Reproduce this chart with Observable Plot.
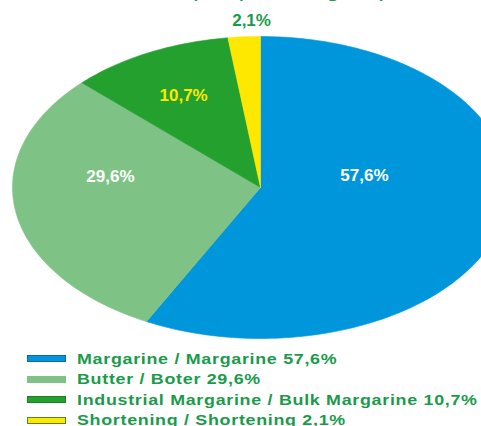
<!DOCTYPE html>
<html>
<head>
<meta charset="utf-8">
<script src="https://cdn.jsdelivr.net/npm/d3@7"></script>
<script src="https://cdn.jsdelivr.net/npm/@observablehq/plot@0.6"></script>
<style>
  html, body { margin: 0; padding: 0; background: #fff; overflow: hidden; }
  #wrap { position: relative; width: 481px; height: 426px; overflow: hidden; font-family: "Liberation Sans", Arial, sans-serif; }
  #title { position: absolute; left: 27px; top: -27px; font-size: 25.6px; color: #1a9b4b; white-space: nowrap; letter-spacing: 0.3px; }
  #chart { position: absolute; left: 0; top: 0; }
  #legend { position: absolute; left: 0; top: 348.5px; }
  .row { position: relative; height: 20.5px; line-height: 20.5px; font-size: 15px; font-weight: bold; color: #1a9b4b; white-space: nowrap; }
  .sw { position: absolute; left: 27px; top: 6.5px; width: 39px; height: 7px; box-sizing: border-box; }
  .tx { position: absolute; left: 77px; top: 0; letter-spacing: 0.6px; transform: scaleX(1.19); transform-origin: 0 50%; }
</style>
</head>
<body>
<div id="wrap">
  <div id="chart"></div>
  <div id="title">Marktaandeel per productgroep</div>
  <div id="legend"></div>
</div>
<script>
const categories = ["Margarine / Margarine", "Butter / Boter", "Industrial Margarine / Bulk Margarine", "Shortening / Shortening"];
const values = [57.6, 29.6, 10.7, 2.1];
const valueLabels = ["57,6%", "29,6%", "10,7%", "2,1%"];
const colors = ["#0096dc", "#7ec385", "#23a02d", "#ffe800"];
const swatchBorders = ["#1565a8", "#7ec385", "#1d7f27", "#4f8a2a"];
const labelColors = ["#ffffff", "#ffffff", "#ffe800", "#1a9b4b"];
const labelX = [0.419, -0.605, -0.310, -0.036];
const labelY = [0.079, 0.073, 0.609, 1.106];

const pie = d3.pie().sort(null).value(d => d)(values);
const slicePts = [];
pie.forEach((p, i) => {
  slicePts.push({cat: categories[i], x: 0, y: 0});
  const n = Math.max(4, Math.ceil((p.endAngle - p.startAngle) / (Math.PI / 120)));
  for (let k = 0; k <= n; k++) {
    const a = p.startAngle + (p.endAngle - p.startAngle) * k / n;
    slicePts.push({cat: categories[i], x: Math.sin(a), y: Math.cos(a)});
  }
  slicePts.push({cat: categories[i], x: 0, y: 0});
});
const labels = categories.map((c, i) => ({cat: c, text: valueLabels[i], x: labelX[i], y: labelY[i], color: labelColors[i]}));

const plot = Plot.plot({
  width: 481,
  height: 345,
  margin: 0,
  x: {domain: [-1, 1], range: [12, 508], axis: null},
  y: {domain: [-1, 1], range: [338, 36], axis: null},
  color: {domain: categories, range: colors},
  marks: [
    Plot.line(slicePts, {x: "x", y: "y", z: "cat", fill: "cat", stroke: "cat", strokeWidth: 0.6, curve: "linear"}),
    Plot.text(labels, {x: "x", y: "y", text: "text", fill: d => d.color, fontSize: 17, fontWeight: "bold", fontFamily: "Liberation Sans, Arial, sans-serif"})
  ]
});
plot.style.overflow = "hidden";
document.getElementById("chart").appendChild(plot);

const legend = document.getElementById("legend");
categories.forEach((c, i) => {
  const row = document.createElement("div");
  row.className = "row";
  const sw = document.createElement("div");
  sw.className = "sw";
  sw.style.background = colors[i];
  sw.style.border = "1px solid " + swatchBorders[i];
  const tx = document.createElement("div");
  tx.className = "tx";
  tx.textContent = c + " " + valueLabels[i];
  row.appendChild(sw);
  row.appendChild(tx);
  legend.appendChild(row);
});
</script>
</body>
</html>
